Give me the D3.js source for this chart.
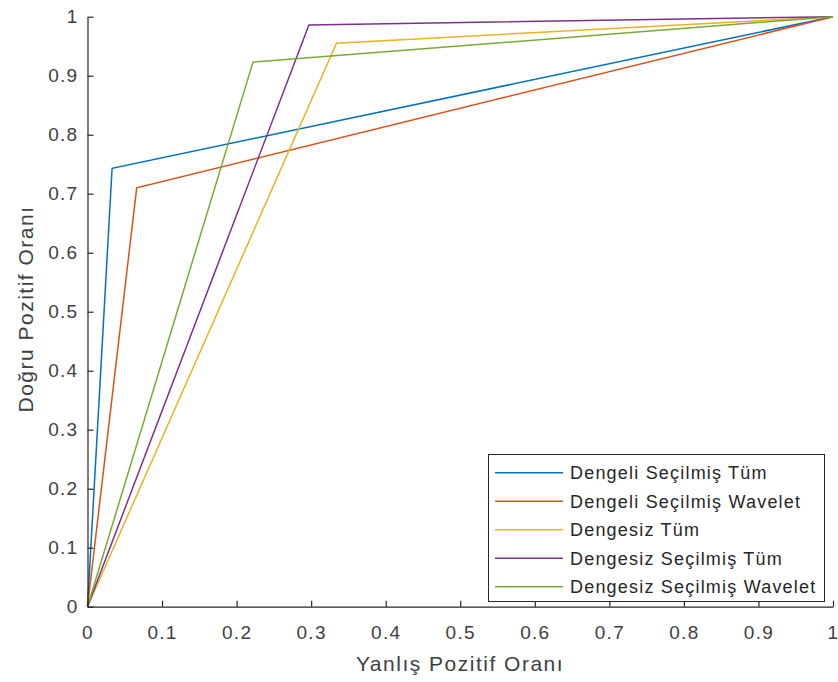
<!DOCTYPE html>
<html>
<head>
<meta charset="utf-8">
<script src="https://cdn.jsdelivr.net/npm/d3@7"></script>
<style>
  body { margin: 0; background: #fff; }
  svg { display: block; font-family: "Liberation Sans", Arial, sans-serif; }
</style>
</head>
<body>
<svg id="chart" width="838" height="682"></svg>
<script>
// series names, in legend order
const seriesNames = [
  "Dengeli Seçilmiş Tüm",
  "Dengeli Seçilmiş Wavelet",
  "Dengesiz Tüm",
  "Dengesiz Seçilmiş Tüm",
  "Dengesiz Seçilmiş Wavelet"
];
// false positive rate at the operating point of each curve
const fprValues = [0.033, 0.066, 0.334, 0.297, 0.222];
// true positive rate at the operating point of each curve
const tprValues = [0.743, 0.710, 0.955, 0.986, 0.923];
const colors = ["#0072BD", "#D95319", "#EDB120", "#7E2F8E", "#77AC30"];

const xTicks = [0, 0.1, 0.2, 0.3, 0.4, 0.5, 0.6, 0.7, 0.8, 0.9, 1];
const yTicks = [0, 0.1, 0.2, 0.3, 0.4, 0.5, 0.6, 0.7, 0.8, 0.9, 1];
const xTitle = "Yanlış Pozitif Oranı";
const yTitle = "Doğru Pozitif Oranı";

const svg = d3.select("#chart");
const axisColor = "#262626";

const x = d3.scaleLinear().domain([0, 1]).range([87.5, 833]);
const y = d3.scaleLinear().domain([0, 1]).range([606.7, 16.7]);

// each ROC curve: (0,0) -> operating point -> (1,1)
const curves = seriesNames.map((name, i) => ({
  name: name,
  color: colors[i],
  points: [[0, 0], [fprValues[i], tprValues[i]], [1, 1]]
}));

const line = d3.line().x((d) => x(d[0])).y((d) => y(d[1]));

svg
  .append("g")
  .selectAll("path")
  .data(curves)
  .enter()
  .append("path")
  .attr("d", (d) => line(d.points))
  .attr("fill", "none")
  .attr("stroke", (d) => d.color)
  .attr("stroke-width", 1.5)
  .attr("stroke-linejoin", "miter");

// axes, MATLAB style: ticks inside, no box
const xAxis = svg
  .append("g")
  .attr("transform", `translate(0,${y(0)})`)
  .call(
    d3.axisBottom(x).tickValues(xTicks).tickFormat((d) => d).tickSizeInner(-6).tickSizeOuter(0).tickPadding(19)
  );

const yAxis = svg
  .append("g")
  .attr("transform", `translate(${x(0)},0)`)
  .call(
    d3.axisLeft(y).tickValues(yTicks).tickFormat((d) => d).tickSizeInner(-6).tickSizeOuter(0).tickPadding(9)
  );

[xAxis, yAxis].forEach((g) => {
  g.select(".domain").attr("stroke", axisColor).attr("stroke-width", 1.2);
  g.selectAll(".tick line").attr("stroke", axisColor).attr("stroke-width", 1.2);
  g.selectAll(".tick text")
    .attr("fill", "#404040")
    .style("font-size", "19px")
    .style("letter-spacing", "1.3px");
});

svg
  .append("text")
  .attr("x", 460)
  .attr("y", 671)
  .attr("text-anchor", "middle")
  .attr("fill", "#404040")
  .style("font-size", "21px")
  .style("letter-spacing", "1.5px")
  .text(xTitle);

svg
  .append("text")
  .attr("transform", "translate(33,309) rotate(-90)")
  .attr("text-anchor", "middle")
  .attr("fill", "#404040")
  .style("font-size", "21px")
  .style("letter-spacing", "1.5px")
  .text(yTitle);

// legend
const legend = svg.append("g");
legend
  .append("rect")
  .attr("x", 488.5)
  .attr("y", 454.5)
  .attr("width", 336)
  .attr("height", 147)
  .attr("fill", "#fff")
  .attr("stroke", axisColor)
  .attr("stroke-width", 1);

const rowY = d3.scalePoint().domain(seriesNames).range([472.7, 586.7]);

const rows = legend
  .selectAll("g.row")
  .data(curves)
  .enter()
  .append("g")
  .attr("class", "row")
  .attr("transform", (d) => `translate(0,${rowY(d.name)})`);

rows
  .append("line")
  .attr("x1", 495)
  .attr("x2", 563)
  .attr("stroke", (d) => d.color)
  .attr("stroke-width", 1.5);

rows
  .append("text")
  .attr("x", 570)
  .attr("dy", "0.35em")
  .attr("fill", "#262626")
  .style("font-size", "18px")
  .style("letter-spacing", "1.2px")
  .text((d) => d.name);
</script>
</body>
</html>
